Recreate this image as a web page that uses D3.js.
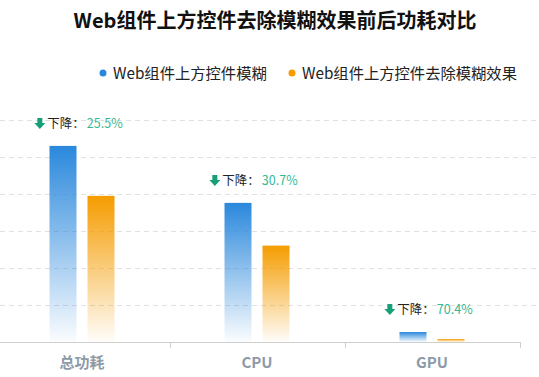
<!DOCTYPE html>
<html>
<head>
<meta charset="utf-8">
<script src="https://cdn.jsdelivr.net/npm/d3@7"></script>
<style>
  body { margin: 0; background: #fff; }
  text { font-family: "Noto Sans CJK SC", "Noto Sans", sans-serif; }
</style>
</head>
<body>
<svg id="chart" width="539" height="377"></svg>
<script>
const categories = ["总功耗", "CPU", "GPU"];
const seriesNames = ["Web组件上方控件模糊", "Web组件上方控件去除模糊效果"];
const blurValues = [530, 376, 27];
const noBlurValues = [395, 260.5, 8];
const dropLabels = ["25.5%", "30.7%", "70.4%"];
const yTicks = [0, 100, 200, 300, 400, 500, 600];

const width = 539, height = 377;
const svg = d3.select("#chart");

const x0 = d3.scaleBand().domain(categories).range([-5.5, 519.5]);
const x1 = d3.scaleBand().domain(seriesNames).range([0, 65]).paddingInner(11 / 38);
const y = d3.scaleLinear().domain([0, 600]).range([342, 120]);

const colors = ["#2a88dc", "#f59c00"];
const defs = svg.append("defs");
const data = categories.map((c, i) => ({cat: c, vals: [blurValues[i], noBlurValues[i]], drop: dropLabels[i]}));

// 标题
svg.append("text")
    .attr("x", 275).attr("y", 28)
    .attr("text-anchor", "middle")
    .attr("font-size", 20).attr("font-weight", "bold")
    .attr("fill", "#111")
    .text("Web组件上方控件去除模糊效果前后功耗对比");

// 图例
const legendPos = [103, 292];
seriesNames.forEach((s, i) => {
    svg.append("circle").attr("cx", legendPos[i]).attr("cy", 73).attr("r", 3.5)
        .attr("fill", colors[i]);
    svg.append("text").attr("x", legendPos[i] + 10).attr("y", 78.5)
        .attr("font-size", 15.3).attr("fill", "#222").text(s);
});

// 网格线
svg.append("g").selectAll("line")
    .data(yTicks.slice(1))
    .join("line")
    .attr("x1", 0).attr("x2", width)
    .attr("y1", d => y(d) + 0.5).attr("y2", d => y(d) + 0.5)
    .attr("stroke", "#e0e0e0")
    .attr("stroke-dasharray", "5,4");

// 柱子
const groups = svg.append("g").selectAll("g")
    .data(data)
    .join("g")
    .attr("transform", d => `translate(${x0(d.cat) + x0.bandwidth() / 2 - 32.5},0)`);

groups.each(function (d, ci) {
    const g = d3.select(this);
    d.vals.forEach((v, si) => {
        const id = `bg${ci}_${si}`;
        const lg = defs.append("linearGradient").attr("id", id)
            .attr("x1", 0).attr("y1", 0).attr("x2", 0).attr("y2", 1);
        lg.append("stop").attr("offset", "0%").attr("stop-color", colors[si]);
        lg.append("stop").attr("offset", "100%").attr("stop-color", colors[si]).attr("stop-opacity", 0.02);
        g.append("rect")
            .attr("x", x1(seriesNames[si]))
            .attr("y", y(v))
            .attr("width", x1.bandwidth())
            .attr("height", y(0) - y(v))
            .attr("fill", `url(#${id})`);
    });
});

// 下降标签
data.forEach(d => {
    const cx = x0(d.cat) + x0.bandwidth() / 2 - 3;
    const ty = y(d.vals[0]) - 18;
    const lab = svg.append("g");
    const t = lab.append("text").attr("y", ty).attr("font-size", 12.5);
    t.append("tspan").attr("fill", "#222").text("下降：");
    t.append("tspan").attr("fill", "#36b894").attr("dx", 2).text(d.drop);
    const w = t.node().getComputedTextLength() + 14;
    const left = cx - w / 2;
    t.attr("x", left + 12);
    lab.append("path")
        .attr("d", `M${left + 2},${ty - 10}h5v5h3l-5.5,6l-5.5,-6h3z`)
        .attr("fill", "#16a077");
});

// x轴
svg.append("line").attr("x1", 0).attr("x2", 520)
    .attr("y1", 342.5).attr("y2", 342.5).attr("stroke", "#cfcfcf");
const xAxis = svg.append("g").attr("transform", "translate(0,342)")
    .call(d3.axisBottom(x0).tickSize(0).tickPadding(15));
xAxis.select(".domain").remove();
xAxis.selectAll("text")
    .attr("font-size", 15).attr("font-weight", "bold")
    .attr("fill", "#8d9aa8")
    .attr("font-family", "'Noto Sans CJK SC', sans-serif");
svg.append("g").selectAll("line")
    .data([x0.range()[0] + x0.bandwidth(), x0.range()[0] + 2 * x0.bandwidth(), x0.range()[1]])
    .join("line")
    .attr("x1", d => Math.round(d) + 0.5).attr("x2", d => Math.round(d) + 0.5)
    .attr("y1", 342).attr("y2", 348)
    .attr("stroke", "#cfcfcf");
</script>
</body>
</html>
